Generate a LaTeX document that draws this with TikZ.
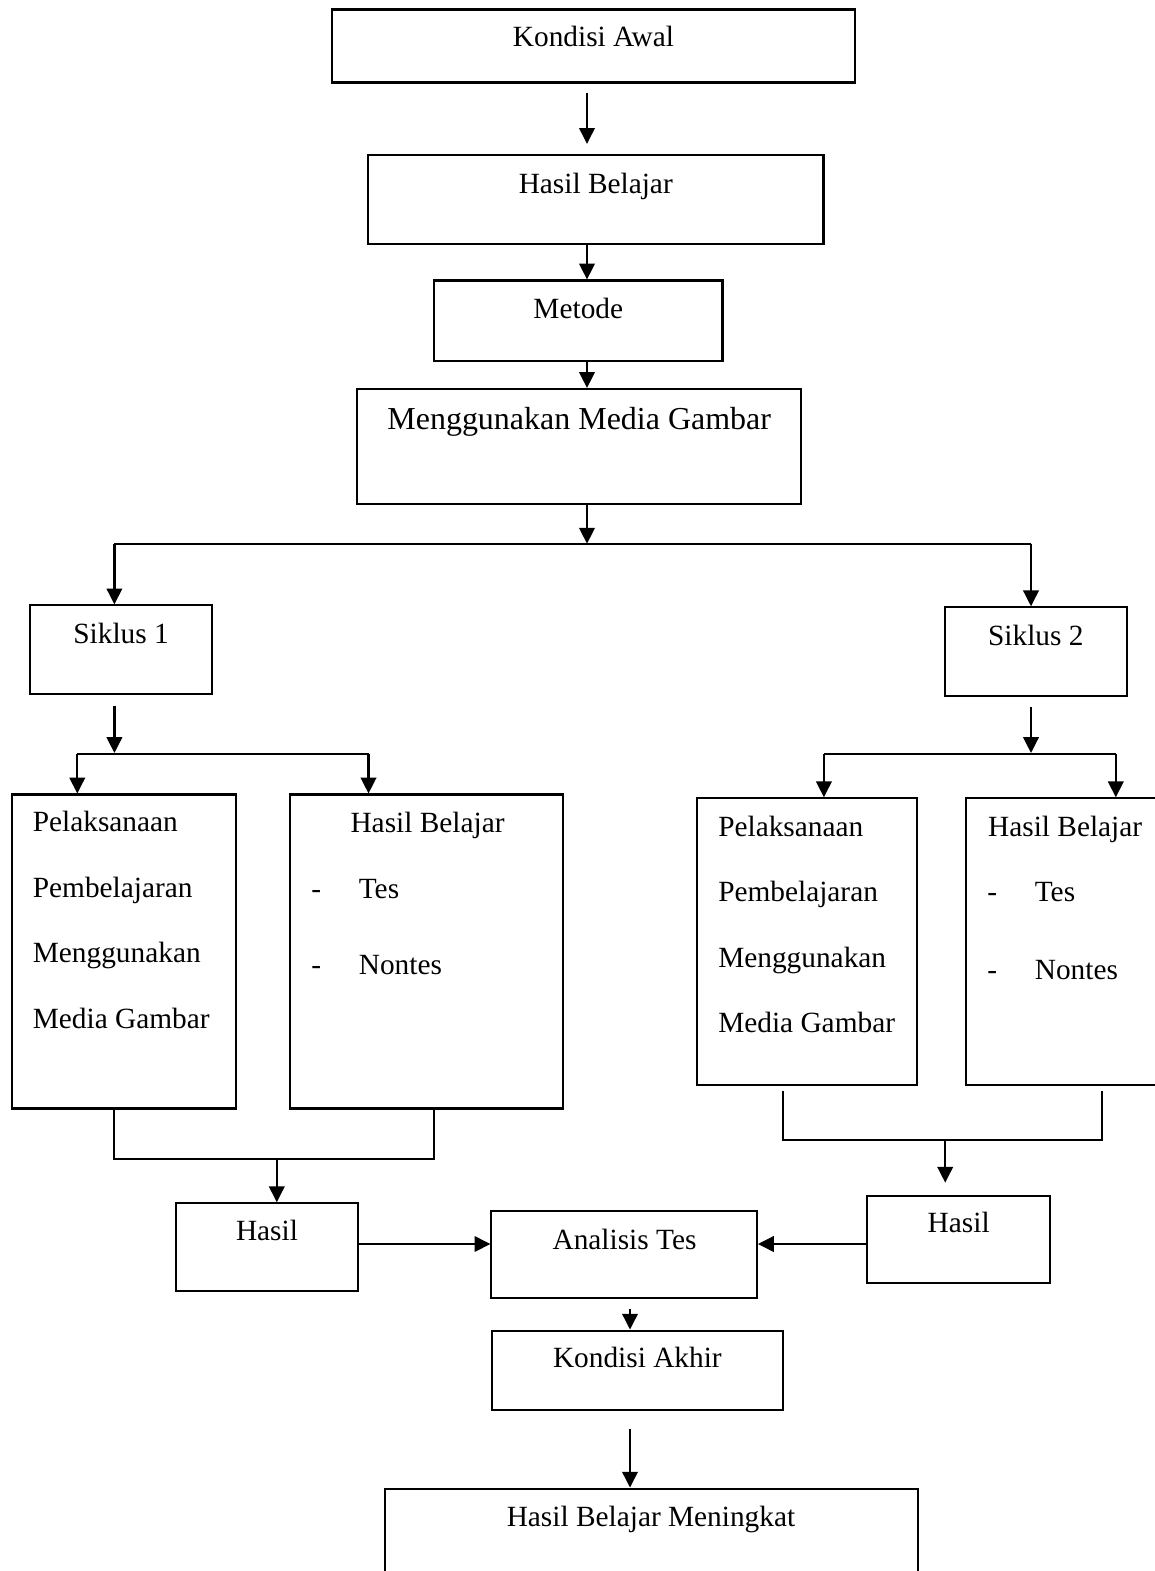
\documentclass[tikz,border=0pt]{standalone}
\usepackage{fontspec}
\setmainfont{Liberation Serif}
\usepackage{tikz}
\usetikzlibrary{arrows.meta}
\usetikzlibrary{calc}

\begin{document}
\begin{tikzpicture}[
    x=0.02cm, y=-0.02cm,
    box/.style={
      draw=black,
      line width=1.2pt,
      inner sep=0pt,
      rectangle
    },
    txt/.style={
      inner sep=0pt,
      font=\fontsize{16.7}{37.3}\selectfont
    },
    bigtxt/.style={
      inner sep=0pt,
      font=\fontsize{18.2}{22}\selectfont
    },
    arr/.style={
      line width=1.3pt,
      -{Triangle[length=9pt, width=8.8pt]}
    },
    conn/.style={line width=1.2pt}
  ]
  \useasboundingbox (0,0) rectangle (1155,1571);
  \clip (0,0) rectangle (1155,1571);

  % top column
  \node[box, minimum width=10.46cm, minimum height=1.46cm] (awal) at (593.5,46) {};
  \node[txt, anchor=base] (awal-t) at (593.5,46.5) {Kondisi Awal};
  \node[box, minimum width=9.11cm, minimum height=1.78cm] (hasil) at (595.75,199.4) {};
  \node[txt, anchor=base] (hasil-t) at (595.75,193.4) {Hasil Belajar};
  \node[box, minimum width=5.77cm, minimum height=1.61cm] (metode) at (578.3,320.75) {};
  \node[txt, anchor=base] (metode-t) at (578.3,318.4) {Metode};
  \node[box, minimum width=8.89cm, minimum height=2.30cm] (media) at (579.2,446.5) {};
  \node[bigtxt, anchor=base] (media-t) at (579.2,429.5) {Menggunakan Media Gambar};

  % siklus 1
  \begin{scope}
    \node[box, minimum width=3.64cm, minimum height=1.77cm] (siklusA) at (121.1,649.65) {};
    \node[txt, anchor=base] (siklusA-t) at (121.1,643) {Siklus 1};
    \node[box, minimum width=4.48cm, minimum height=6.28cm] (pelA) at (123.8,951.5) {};
    \node[txt, anchor=base west, text width=4cm, align=flush left] (pelA-t) at (32.5,831.9)
      {Pelaksanaan\\Pembelajaran\\Menggunakan\\Media Gambar};
    \node[box, minimum width=5.47cm, minimum height=6.28cm] (belA) at (426.35,951.5) {};
    \node[txt, anchor=base west] (belA-t) at (350.2,832) {Hasil Belajar};
    \node[txt, anchor=base west] (belA-tes) at (311,898) {\makebox[0.95cm][l]{-}Tes};
    \node[txt, anchor=base west] (belA-non) at (311,974.6) {\makebox[0.95cm][l]{-}Nontes};
    \node[box, minimum width=3.64cm, minimum height=1.75cm] (hasilA) at (266.75,1247) {};
    \node[txt, anchor=base] (hasilA-t) at (267,1240.7) {Hasil};
  \end{scope}

  % siklus 2
  \begin{scope}
    \node[box, minimum width=3.64cm, minimum height=1.78cm] (siklusB) at (1035.85,651.85) {};
    \node[txt, anchor=base] (siklusB-t) at (1035.85,645.5) {Siklus 2};
    \node[box, minimum width=4.41cm, minimum height=5.73cm] (pelB) at (807.2,941.55) {};
    \node[txt, anchor=base west, text width=4cm, align=flush left] (pelB-t) at (717.9,836)
      {Pelaksanaan\\Pembelajaran\\Menggunakan\\Media Gambar};
    \node[box, minimum width=4.28cm, minimum height=5.73cm] (belB) at (1072.9,941.55) {};
    \node[txt, anchor=base west] (belB-t) at (987.8,836) {Hasil Belajar};
    \node[txt, anchor=base west] (belB-tes) at (987,901.6) {\makebox[0.95cm][l]{-}Tes};
    \node[txt, anchor=base west] (belB-non) at (987,979) {\makebox[0.95cm][l]{-}Nontes};
    \node[box, minimum width=3.67cm, minimum height=1.74cm] (hasilB) at (958.35,1239.2) {};
    \node[txt, anchor=base] (hasilB-t) at (958.7,1232.7) {Hasil};
  \end{scope}

  % bottom column
  \node[box, minimum width=5.31cm, minimum height=1.75cm] (analisis) at (624.15,1254.65) {};
  \node[txt, anchor=base] (analisis-t) at (624.5,1249) {Analisis Tes};
  \node[box, minimum width=5.83cm, minimum height=1.59cm] (akhir) at (637.35,1370.35) {};
  \node[txt, anchor=base] (akhir-t) at (637.4,1367.3) {Kondisi Akhir};
  \node[box, minimum width=10.65cm, minimum height=2.23cm] (naik) at (651.45,1544.35) {};
  \node[txt, anchor=base] (naik-t) at (651,1526) {Hasil Belajar Meningkat};

  \coordinate (sp) at (587,0);
  \coordinate (sp2) at (630,0);
  \coordinate (barL) at (114.4,543.7);
  \coordinate (barR) at (1031,543.7);
  \coordinate (brA) at (114.4,753);
  \coordinate (brA1) at (77.3,754.2);
  \coordinate (brA2) at (368.5,754.2);
  \coordinate (brB) at (1031,753);
  \coordinate (brB1) at (823.9,754.2);
  \coordinate (brB2) at (1115.8,754.2);
  \coordinate (jA1) at (114.4,1159.3);
  \coordinate (jA2) at (433.6,1159.3);
  \coordinate (jA) at (276.8,1159.3);
  \coordinate (jB1) at (782.8,1140);
  \coordinate (jB2) at (1102.2,1140);
  \coordinate (jB) at (945.2,1140);
  \coordinate (mid) at (0,1244);

  \draw[arr] ($(awal.south -| sp)+(0,9)$) -- ($(hasil.north -| sp)-(0,10)$);
  \draw[arr] (hasil.south -| sp) -- (metode.north -| sp);
  \draw[arr] (metode.south -| sp) -- (media.north -| sp);
  \draw[arr] (media.south -| sp) -- (barL -| sp);
  \draw[conn] (barL) -- (barR);
  \draw[arr] (barL) -- (barL |- siklusA.north);
  \draw[arr] (barR) -- (barR |- siklusB.north);

  \draw[arr] ($(siklusA.south -| brA)+(0,11)$) -- (brA);
  \draw[conn] (brA1) -- (brA2);
  \draw[arr] (brA1) -- (brA1 |- pelA.north);
  \draw[arr] (brA2) -- (brA2 |- belA.north);
  \draw[arr] ($(siklusB.south -| brB)+(0,10)$) -- (brB);
  \draw[conn] (brB1) -- (brB2);
  \draw[arr] (brB1) -- (brB1 |- pelB.north);
  \draw[arr] (brB2) -- (brB2 |- belB.north);

  \draw[conn] (jA1 |- pelA.south) -- (jA1) -- (jA2) -- (jA2 |- belA.south);
  \draw[arr] (jA) -- (jA |- hasilA.north);
  \draw[conn] ($(jB1 |- pelB.south)+(0,5)$) -- (jB1) -- (jB2) -- ($(jB2 |- belB.south)+(0,5)$);
  \draw[arr] (jB) -- ($(jB |- hasilB.north)-(0,12)$);

  \draw[arr] (hasilA.east |- mid) -- (analisis.west |- mid);
  \draw[arr] (hasilB.west |- mid) -- (analisis.east |- mid);
  \draw[arr] ($(analisis.south -| sp2)+(0,10)$) -- (akhir.north -| sp2);
  \draw[arr] ($(akhir.south -| sp2)+(0,18)$) -- (naik.north -| sp2);
\end{tikzpicture}
\end{document}
